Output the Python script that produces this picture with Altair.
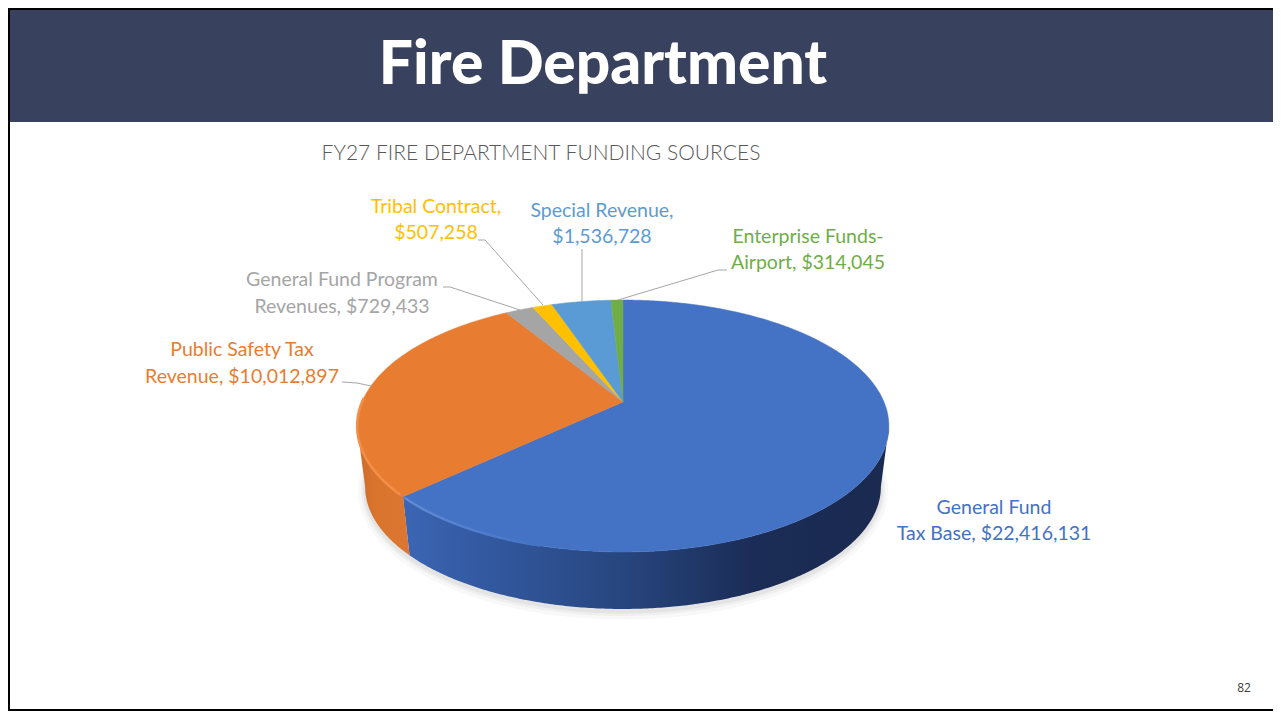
import math
import altair as alt
import pandas as pd

# ---------- data ----------
categories = ["General Fund Tax Base", "Public Safety Tax Revenue", "General Fund Program Revenues",
              "Tribal Contract", "Special Revenue", "Enterprise Funds-Airport"]
values = [22416131, 10012897, 729433, 507258, 1536728, 314045]
colors = ["#4472C4", "#E87D32", "#A5A5A5", "#FFC000", "#5B9BD5", "#70AD47"]
label_lines = [
    ["General Fund", "Tax Base,  $22,416,131"],
    ["Public Safety Tax", "Revenue, $10,012,897"],
    ["General Fund Program", "Revenues,  $729,433"],
    ["Tribal Contract,", "$507,258"],
    ["Special Revenue,", "$1,536,728"],
    ["Enterprise Funds-", "Airport,  $314,045"],
]
main_title = "Fire Department"
sub_title = "FY27 FIRE DEPARTMENT FUNDING SOURCES"
page_number = "82"

# ---------- layout (page pixels) ----------
M = 8
W, H = 1265, 703
RIGHT, BOTTOM = M + W, M + H
label_pos = [(994, 514, 540), (242, 356, 383), (342, 286, 313), (436, 213, 239), (602, 217, 243), (808, 243, 269)]
leaders = [None,
           [(342, 382), (357, 383), (371, 386)],
           [(443, 287), (450, 287), (520, 310)],
           [(478, 240), (485, 240), (543, 305)],
           [(582, 249), (582, 302)],
           [(727, 270), (718, 270), (618, 300)]]
CX, CY, R, S, K = 623, 402, 261, 121.4, 0.1905
DEPTH, SHRINK = 61.5, 0.97
LABEL_FONT = "Lato"


def rim(deg, lower=False):
    t = math.radians(deg)
    u, v = math.sin(t), math.cos(t)
    d = 1 + K * v
    if lower:
        return [CX + SHRINK * R * u / d, -(CY + DEPTH - SHRINK * S * v / d)]
    return [CX + R * u / d, -(CY - S * v / d)]


def arc(a, b, lower=False, n=None):
    n = n or max(2, int(abs(b - a) * 2))
    return [rim(a + (b - a) * i / n, lower) for i in range(n + 1)]


def poly(ring):
    return {"type": "Feature", "properties": {}, "geometry": {"type": "Polygon", "coordinates": [ring + [ring[0]]]}}


def line(pts):
    return {"type": "Feature", "properties": {}, "geometry": {"type": "LineString", "coordinates": pts}}


def geo(features, **mark):
    return alt.Chart(alt.Data(values=features)).mark_geoshape(**mark).project(
        type="identity", reflectY=True, scale=1, translate=[-M, -M])


def grad(stops, x1=0, x2=1, y1=0, y2=0):
    return alt.LinearGradient(gradient="linear", x1=x1, x2=x2, y1=y1, y2=y2,
                              stops=[alt.GradientStop(color=c, offset=o) for o, c in stops])


def rect(x1, x2, y1, y2, color):
    return alt.Chart(pd.DataFrame({"a": [0]})).mark_rect(color=color).encode(
        x=alt.value(x1 - M), x2=alt.value(x2 - M), y=alt.value(y1 - M), y2=alt.value(y2 - M))


def text(s, x, y, size, color, font=LABEL_FONT, weight=400, align="center"):
    return alt.Chart(pd.DataFrame({"t": [s]})).mark_text(
        font=font, fontSize=size, fontWeight=weight, color=color, align=align, baseline="alphabetic"
    ).encode(text="t:N", x=alt.value(x - M), y=alt.value(y - M))


# slice angles, clockwise from twelve o'clock
total = sum(values)
angles = [0]
for v in values:
    angles.append(angles[-1] + 360 * v / total)

layers = []

# slide furniture
layers.append(rect(M, RIGHT, 10, 122, "#38425E"))
layers.append(rect(M, RIGHT, M, 10, "#000000"))
layers.append(rect(M, 10, M, BOTTOM, "#000000"))
layers.append(rect(M, RIGHT, BOTTOM - 2, BOTTOM, "#000000"))

# soft shadow below the pie
for grow, op in [(7, 0.05), (4, 0.07), (2, 0.09)]:
    ring = [[CX + (SHRINK * R + grow) * math.sin(math.radians(a)) / (1 + K * math.cos(math.radians(a))),
             -(CY + DEPTH + 2 - (SHRINK * S + grow) * math.cos(math.radians(a)) / (1 + K * math.cos(math.radians(a))))]
            for a in range(0, 360, 3)]
    layers.append(geo([poly(ring)], fill="#7F7F7F", opacity=op, stroke=None))

# side wall: blue and orange are the only slices facing the viewer
wall_a = arc(101, angles[1]) + arc(angles[1], 101, lower=True)
wall_b = arc(angles[1], 259) + arc(259, angles[1], lower=True)
layers.append(geo([poly(wall_a)], stroke=None, fill=grad(
    [(0, "#3C66B4"), (0.15, "#335AA2"), (0.45, "#27467F"), (0.72, "#1B2C56"), (1, "#1A2A50")])))
layers.append(geo([poly(wall_b)], stroke=None, fill=grad(
    [(0, "#CC6C2A"), (0.35, "#D9742D"), (1, "#DC7630")])))

# top surface
for i in range(len(values)):
    ring = [[CX, -CY]] + arc(angles[i], angles[i + 1])
    layers.append(geo([poly(ring)], fill=colors[i], stroke=colors[i], strokeWidth=0.5))

# bevel on the front rim
layers.append(geo([line(arc(angles[1] + 1, 272))], filled=False, stroke="#F28F49", strokeWidth=2.5))
layers.append(geo([line(arc(195, angles[1] - 0.5))], filled=False, strokeWidth=2.5, stroke=grad(
    [(0, "#638BD6"), (1, "#4472C4")])))

# leader lines
for pts in leaders:
    if pts:
        layers.append(geo([line([[x, -y] for x, y in pts])], filled=False, stroke="#A6A6A6", strokeWidth=1))

# labels
for lines, pos, c in zip(label_lines, label_pos, colors):
    layers.append(text(lines[0], pos[0], pos[1], 19.5, c))
    layers.append(text(lines[1], pos[0], pos[2], 19.5, c))

layers.append(text(sub_title, 541, 160, 21, "#595959", weight=300))
layers.append(text(main_title, 603, 84, 60.5, "#FFFFFF", weight=900))
layers.append(text(page_number, 1244, 692, 12, "#404040", font="Open Sans"))

chart = alt.layer(*layers).properties(
    width=W, height=H, padding=0, autosize=alt.AutoSizeParams(type="none"), background="#FFFFFF"
).configure_view(stroke=None)

chart.save("out.html", embed_options={"renderer": "svg", "actions": False})
